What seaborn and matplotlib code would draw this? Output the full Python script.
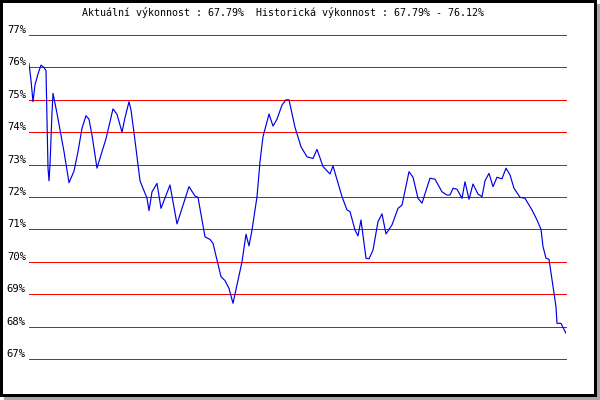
import matplotlib
matplotlib.use("Agg")
import matplotlib.pyplot as plt
from matplotlib.patches import Rectangle
import seaborn as sns
import pandas as pd

# ---- data ----
den = [0, 2, 4, 6, 9, 12, 15, 17, 19, 20, 21, 23, 24, 25, 28, 31, 35, 40, 45, 49,
       53, 57, 60, 63, 68, 72, 77, 81, 84, 88, 93, 96, 100, 102, 106, 109, 111, 114,
       118, 120, 123, 128, 132, 141, 148, 160, 166, 169, 176, 181, 184, 192, 196,
       200, 204, 213, 217, 220, 223, 228, 231, 234, 240, 244, 248, 253, 257, 260,
       266, 272, 278, 284, 288, 294, 301, 304, 313, 318, 321, 326, 329, 332, 337,
       340, 344, 349, 353, 357, 363, 369, 373, 380, 384, 389, 393, 401, 406, 413,
       418, 421, 424, 428, 433, 436, 440, 444, 449, 453, 456, 460, 464, 468, 473,
       477, 481, 485, 491, 496, 503, 508, 512, 514, 517, 520, 524, 527, 528, 532, 537]
vykonnost = [76.12, 75.6, 74.94, 75.46, 75.8, 76.07, 76.0, 75.9, 72.9, 72.5, 73.0,
             74.6, 75.2, 75.05, 74.58, 74.07, 73.4, 72.44, 72.8, 73.4, 74.12, 74.51,
             74.4, 73.91, 72.89, 73.3, 73.8, 74.32, 74.72, 74.55, 74.0, 74.45, 74.94,
             74.69, 73.74, 73.0, 72.5, 72.27, 71.96, 71.58, 72.16, 72.42, 71.65,
             72.37, 71.17, 72.32, 72.03, 71.99, 70.77, 70.69, 70.57, 69.54, 69.42,
             69.18, 68.72, 70.0, 70.85, 70.49, 70.98, 72.01, 73.09, 73.86, 74.56,
             74.19, 74.40, 74.84, 75.0, 75.0, 74.15, 73.55, 73.24, 73.19, 73.47,
             72.94, 72.71, 72.96, 72.01, 71.60, 71.55, 70.98, 70.80, 71.29, 70.11,
             70.09, 70.36, 71.24, 71.48, 70.86, 71.14, 71.65, 71.75, 72.78, 72.61,
             71.96, 71.81, 72.58, 72.55, 72.16, 72.06, 72.06, 72.27, 72.24, 71.96,
             72.47, 71.93, 72.40, 72.09, 72.01, 72.50, 72.73, 72.32, 72.61, 72.56,
             72.89, 72.68, 72.27, 71.99, 71.96, 71.60, 71.29, 71.0, 70.47, 70.11,
             70.08, 69.23, 68.61, 68.10, 68.10, 67.79]
urovne = [67, 68, 69, 70, 71, 72, 73, 74, 75, 76, 77]
popisky = [f"{u}%" for u in urovne]
titulek = "Aktuální výkonnost : 67.79%  Historická výkonnost : 67.79% - 76.12%"

df = pd.DataFrame({"den": den, "vykonnost": vykonnost})

sns.set_style("white")
plt.rcParams["font.family"] = ["DejaVu Sans Mono", "DejaVu Sans"]

W, H = 600, 400
fig = plt.figure(figsize=(6, 4), dpi=100)
fig.patch.set_facecolor("white")

def px_rect(x0, y0_top, x1, y1_top, color, z):
    # pixel coords measured from top-left
    r = Rectangle((x0 / W, 1 - y1_top / H), (x1 - x0) / W, (y1_top - y0_top) / H,
                  transform=fig.transFigure, facecolor=color, edgecolor="none",
                  zorder=z, antialiased=False)
    fig.add_artist(r)

# shadow, frame, inner white
px_rect(4, 397, 600, 400, "#a8a8a8", -12)
px_rect(597, 4, 600, 400, "#a8a8a8", -12)
px_rect(0, 0, 597, 397, "black", -11)
px_rect(3, 3, 594, 394, "white", -10)

left, right, top, bottom = 29, 566, 35, 359
ax = fig.add_axes([left / W, 1 - bottom / H, (right - left) / W, (bottom - top) / H])
ax.set_facecolor("none")
ax.set_xlim(0, 537)
ax.set_ylim(67, 77)

for u in urovne:
    ax.axhline(u, color="#ff0000", lw=0.72, clip_on=False, zorder=1, antialiased=False)

sns.lineplot(data=df, x="den", y="vykonnost", ax=ax, color="#0000e6",
             linewidth=0.85, zorder=3, antialiased=True)

for s in ax.spines.values():
    s.set_visible(False)
ax.set_xticks([])
ax.set_yticks(urovne)
ax.set_yticklabels(popisky)
ax.tick_params(axis="y", length=0, pad=2.2, labelsize=7.6, labelcolor="black")
for lbl in ax.get_yticklabels():
    lbl.set_verticalalignment("bottom")
ax.set_xlabel("")
ax.set_ylabel("")

fig.text(283 / W, 1 - 13 / H, titulek, ha="center", va="center", fontsize=7.2,
         color="black")

fig.savefig("out.png", dpi=100)
